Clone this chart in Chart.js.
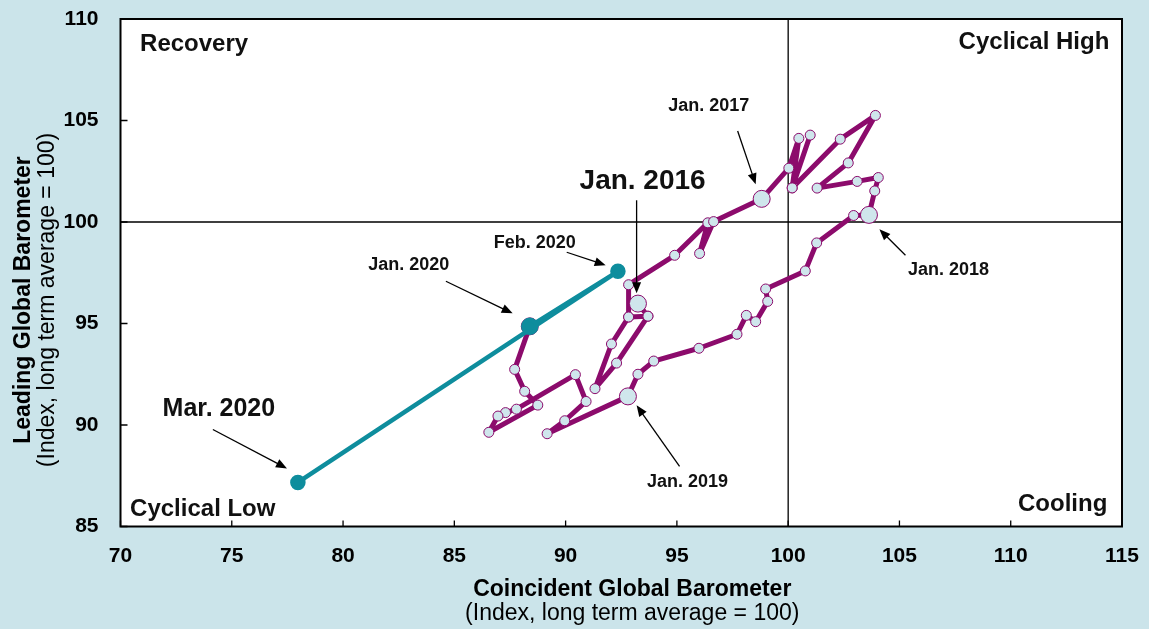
<!DOCTYPE html>
<html>
<head>
<meta charset="utf-8">
<script src="https://cdn.jsdelivr.net/npm/chart.js@4"></script>
<style>
html,body{margin:0;padding:0;background:#cbe4ea;}
#c{display:block;}
</style>
</head>
<body>
<canvas id="c" width="1149" height="629"></canvas>
<script>

// purple path, Jan. 2016 -> Jan. 2020
let coincident=[93.25,93.70,92.83,92.06,91.32,92.29,93.70,92.83,92.83,94.90,96.39,96.02,96.65,
98.81,100.03,100.48,100.18,100.99,100.18,102.34,103.92,102.70,101.30,103.10,104.05,103.89,
103.63,102.94,101.28,100.77,98.99,99.08,98.54,98.12,97.70,95.99,93.96,93.25,
92.80,89.17,89.96,90.92,90.44,87.79,87.30,86.96,86.55,88.75,88.16,87.71,
88.39]
let leading=[95.98,95.36,95.32,93.99,91.79,93.05,95.36,95.32,96.91,98.36,99.96,98.45,100.02,
101.14,102.65,104.12,101.68,104.28,101.68,104.08,105.25,102.91,101.67,102.00,102.19,101.53,
100.35,100.32,98.97,97.59,96.70,96.09,95.09,95.40,94.47,93.78,93.15,92.50,
91.41,89.57,90.21,91.16,92.48,90.78,90.61,90.44,89.64,90.98,91.66,92.74,
94.86]
let januaries=[0,13,26,38,50]

// teal path 2020
let months2020=["Jan. 2020","Feb. 2020","Mar. 2020"]
let coincident2020=[88.39,92.35,77.97]
let leading2020=[94.86,97.57,87.17]

let xTicks=[70,75,80,85,90,95,100,105,110,115]
let yTicks=[85,90,95,100,105,110]

let purple="#8c0b6c"
let teal="#0e8d9d"
let dot="#cfe6ec"

let quadrants=[
{text:"Recovery",x:70.88,y:108.77,align:"left"},
{text:"Cyclical High",x:114.43,y:108.87,align:"right"},
{text:"Cyclical Low",x:70.43,y:85.84,align:"left"},
{text:"Cooling",x:114.34,y:86.08,align:"right"}
]

let notes=[
{text:"Jan. 2016",x:93.46,y:102.01,size:28,a:[93.19,101.07,93.19,96.49]},
{text:"Jan. 2017",x:96.43,y:105.71,size:18,a:[97.73,104.48,98.54,101.86]},
{text:"Feb. 2020",x:88.61,y:98.95,size:18,a:[90.05,98.51,91.80,97.87]},
{text:"Jan. 2020",x:82.95,y:97.87,size:18,a:[84.62,97.08,87.62,95.50]},
{text:"Jan. 2018",x:107.20,y:97.62,size:18,a:[105.27,98.36,104.10,99.64]},
{text:"Jan. 2019",x:95.48,y:87.17,size:18,a:[95.12,87.96,93.19,90.97]},
{text:"Mar. 2020",x:74.42,y:90.77,size:25,a:[74.15,89.78,77.48,87.86]}
]

let font="'Liberation Sans', Arial, sans-serif"

function arrow(ctx,x1,y1,x2,y2){
let ang=Math.atan2(y2-y1,x2-x1)
let len=11, w=4.5
ctx.beginPath()
ctx.moveTo(x1,y1)
ctx.lineTo(x2-Math.cos(ang)*len*0.8,y2-Math.sin(ang)*len*0.8)
ctx.lineWidth=1.3
ctx.strokeStyle="#000"
ctx.stroke()
ctx.beginPath()
ctx.moveTo(x2,y2)
ctx.lineTo(x2-Math.cos(ang)*len+Math.sin(ang)*w,y2-Math.sin(ang)*len-Math.cos(ang)*w)
ctx.lineTo(x2-Math.cos(ang)*len-Math.sin(ang)*w,y2-Math.sin(ang)*len+Math.cos(ang)*w)
ctx.closePath()
ctx.fillStyle="#000"
ctx.fill()
}

let decor={
id:"decor",
beforeDraw(chart){
let {ctx,chartArea:a}=chart
ctx.save()
ctx.fillStyle="#cbe4ea"
ctx.fillRect(0,0,chart.width,chart.height)
ctx.fillStyle="#fff"
ctx.fillRect(a.left,a.top,a.right-a.left,a.bottom-a.top)
ctx.restore()
},
beforeDatasetsDraw(chart){
let {ctx,chartArea:a,scales:{x,y}}=chart
ctx.save()
ctx.strokeStyle="#000"
ctx.lineWidth=1.3
ctx.beginPath()
ctx.moveTo(x.getPixelForValue(100),a.top)
ctx.lineTo(x.getPixelForValue(100),a.bottom)
ctx.moveTo(a.left,y.getPixelForValue(100))
ctx.lineTo(a.right,y.getPixelForValue(100))
ctx.stroke()
ctx.restore()
},
afterDraw(chart){
let {ctx,chartArea:a,scales:{x,y}}=chart
ctx.save()

// frame + inward ticks
ctx.strokeStyle="#000"
ctx.lineWidth=2
ctx.strokeRect(a.left,a.top,a.right-a.left,a.bottom-a.top)
ctx.lineWidth=1.3
ctx.beginPath()
xTicks.forEach(v=>{
let px=x.getPixelForValue(v)
ctx.moveTo(px,a.bottom)
ctx.lineTo(px,a.bottom-6)
})
yTicks.forEach(v=>{
let py=y.getPixelForValue(v)
ctx.moveTo(a.left,py)
ctx.lineTo(a.left+7,py)
})
ctx.stroke()

// quadrant names
ctx.fillStyle="#111"
ctx.textBaseline="middle"
ctx.font="bold 24px "+font
quadrants.forEach(q=>{
ctx.textAlign=q.align
ctx.fillText(q.text,x.getPixelForValue(q.x),y.getPixelForValue(q.y))
})

// date notes with arrows
notes.forEach(n=>{
ctx.font="bold "+n.size+"px "+font
ctx.textAlign="center"
ctx.fillStyle="#111"
ctx.fillText(n.text,x.getPixelForValue(n.x),y.getPixelForValue(n.y))
arrow(ctx,x.getPixelForValue(n.a[0]),y.getPixelForValue(n.a[1]),x.getPixelForValue(n.a[2]),y.getPixelForValue(n.a[3]))
})

// axis titles
let cx=(a.left+a.right)/2+11
ctx.textAlign="center"
ctx.fillStyle="#000"
ctx.font="bold 23px "+font
ctx.fillText("Coincident Global Barometer",cx,a.bottom+63)
ctx.font="23px "+font
ctx.fillText("(Index, long term average = 100)",cx,a.bottom+87)

ctx.translate(24,300)
ctx.rotate(-Math.PI/2)
ctx.font="bold 23px "+font
ctx.fillText("Leading Global Barometer",0,0)
ctx.font="23px "+font
ctx.fillText("(Index, long term average = 100)",0,24)
ctx.restore()
}
}

let path=coincident.map((v,i)=>({x:v,y:leading[i]}))
let path2020=coincident2020.map((v,i)=>({x:v,y:leading2020[i],label:months2020[i]}))

new Chart(document.getElementById("c"),{
type:"scatter",
data:{
datasets:[
{
label:"Global Barometers 2016-2020",
data:path,
showLine:true,
borderColor:purple,
borderWidth:5,
borderJoinStyle:"round",
borderCapStyle:"round",
pointBackgroundColor:dot,
pointBorderColor:purple,
pointBorderWidth:1,
pointRadius:ctx=>januaries.includes(ctx.dataIndex)?8.5:5,
order:2
},
{
label:"2020",
data:path2020,
showLine:true,
borderColor:teal,
borderWidth:4.5,
borderJoinStyle:"round",
borderCapStyle:"round",
pointBackgroundColor:teal,
pointBorderColor:teal,
pointRadius:[6.5,5.5,5.5],
order:1
}
]
},
options:{
responsive:false,
animation:false,
devicePixelRatio:1,
layout:{padding:{top:19,right:27,left:0,bottom:0}},
plugins:{legend:{display:false},tooltip:{enabled:false}},
scales:{
x:{
type:"linear",min:70,max:115,
afterBuildTicks:s=>{s.ticks=xTicks.map(v=>({value:v}))},
grid:{display:false,drawTicks:false},
border:{display:false},
ticks:{color:"#000",font:{family:font,size:21,weight:"bold"},padding:17},
afterFit:s=>{s.height=102.5;s.paddingLeft=0;s.paddingRight=0}
},
y:{
type:"linear",min:85,max:110,
afterBuildTicks:s=>{s.ticks=yTicks.map(v=>({value:v}))},
grid:{display:false,drawTicks:false},
border:{display:false},
ticks:{color:"#000",font:{family:font,size:21,weight:"bold"},padding:22},
afterFit:s=>{s.width=120.5;s.paddingTop=0;s.paddingBottom=0}
}
}
},
plugins:[decor]
})

</script>
</body>
</html>
